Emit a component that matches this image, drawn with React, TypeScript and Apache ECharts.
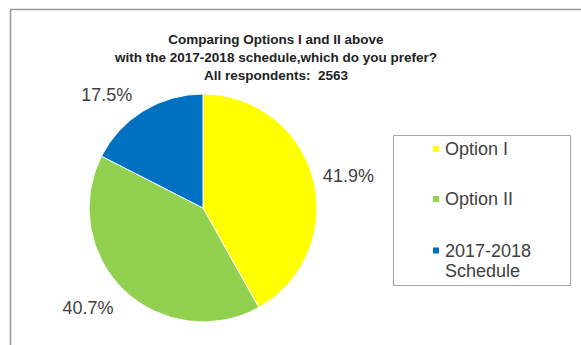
import React, { useEffect, useRef } from "react";
import * as echarts from "echarts";

const titleLines = [
  "Comparing Options I and II above",
  "with the 2017-2018 schedule,which do you prefer?",
  "All respondents:  2563",
];
const categories = ["Option I", "Option II", "2017-2018 Schedule"];
const values = [41.9, 40.7, 17.5];
const colors = ["#FFFF00", "#92D050", "#0070C0"];
// label line tuning per slice (length, length2) to place labels like the original
const labelLens = [13, 24.6, 18];
const labelLens2 = [-8, -11.5, -3.2];

const FONT = "'Liberation Sans', Arial, Helvetica, sans-serif";

export default function App() {
  const ref = useRef<HTMLDivElement>(null);
  useEffect(() => {
    document.body.style.margin = "0";
    if (!ref.current) return;
    const chart = echarts.init(ref.current, undefined, { renderer: "svg" });
    const legendBase = {
      orient: "vertical",
      icon: "rect",
      itemWidth: 8,
      itemHeight: 8,
      padding: 0,
      selectedMode: false,
      textStyle: { fontSize: 18, color: "#404040", fontFamily: FONT, lineHeight: 20 },
    };
    chart.setOption({
      animation: false,
      backgroundColor: "#ffffff",
      color: colors,
      title: {
        text: titleLines.join("\n"),
        left: 276,
        textAlign: "center",
        top: 30,
        padding: 0,
        textStyle: {
          fontSize: 13.5,
          fontWeight: "bold",
          color: "#222222",
          lineHeight: 18,
          fontFamily: FONT,
        },
      },
      legend: [
        { ...legendBase, left: 431, top: 139, data: [categories[0]] },
        { ...legendBase, left: 431, top: 189, data: [categories[1]] },
        {
          ...legendBase,
          left: 431,
          top: 220.5,
          data: [categories[2]],
          formatter: () => "\n2017-2018\nSchedule",
        },
      ],
      graphic: [
        {
          type: "polyline",
          shape: { points: [[10.5, 345], [10.5, 9.5], [581, 9.5]] },
          style: { stroke: "#999999", lineWidth: 1.5, fill: "none" },
          silent: true,
        },
        {
          type: "rect",
          shape: { x: 393.5, y: 135.5, width: 177, height: 150 },
          style: { stroke: "#a6a6a6", lineWidth: 1, fill: "none" },
          silent: true,
        },
      ],
      series: [
        {
          type: "pie",
          center: [203, 208],
          radius: 114,
          startAngle: 90,
          clockwise: true,
          avoidLabelOverlap: false,
          itemStyle: { borderColor: "#ffffff", borderWidth: 1 },
          label: {
            show: true,
            position: "outside",
            fontSize: 18,
            color: "#404040",
            fontFamily: FONT,
            formatter: (p: any) => p.value.toFixed(1) + "%",
          },
          emphasis: { disabled: true },
          data: categories.map((name, i) => ({
            name,
            value: values[i],
            labelLine: { show: false, length: labelLens[i], length2: labelLens2[i] },
          })),
        },
      ],
    });
    return () => chart.dispose();
  }, []);
  return <div ref={ref} style={{ width: 581, height: 345 }} />;
}
